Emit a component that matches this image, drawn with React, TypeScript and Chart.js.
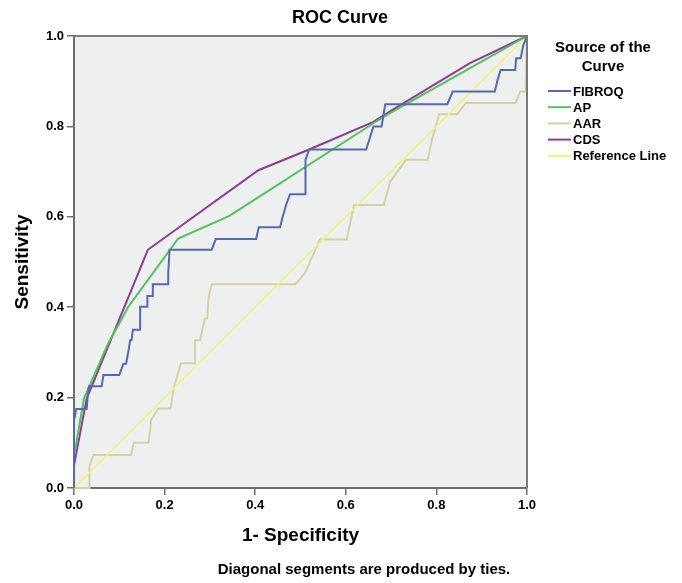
import React, { useEffect, useRef } from "react";
import { Chart, registerables } from "chart.js";

Chart.register(...registerables);

const FONT = "'Liberation Sans', Arial, Helvetica, sans-serif";

const chartTitle = "ROC Curve";
const xAxisTitle = "1- Specificity";
const yAxisTitle = "Sensitivity";
const footnote = "Diagonal segments are produced by ties.";
const legendTitle = ["Source of the", "Curve"];

const seriesNames = ["FIBROQ", "AP", "AAR", "CDS", "Reference Line"];
const seriesColors = ["#5667b4", "#52c15c", "#d7d0a6", "#8f3b95", "#f3f17c"];

// FIBROQ
const fibroqFpr = [0, 0, 0.005, 0.028, 0.03, 0.033, 0.061, 0.065, 0.1, 0.109, 0.115, 0.12, 0.124, 0.127, 0.13, 0.146, 0.146, 0.162, 0.162, 0.174, 0.174, 0.208, 0.208, 0.211, 0.304, 0.313, 0.402, 0.408, 0.455, 0.461, 0.465, 0.468, 0.477, 0.511, 0.511, 0.519, 0.645, 0.661, 0.679, 0.687, 0.824, 0.836, 0.929, 0.935, 0.942, 0.974, 0.976, 0.986, 0.992, 1];
const fibroqTpr = [0, 0.15, 0.175, 0.175, 0.2, 0.225, 0.225, 0.25, 0.25, 0.275, 0.275, 0.302, 0.327, 0.327, 0.35, 0.35, 0.401, 0.401, 0.425, 0.425, 0.451, 0.451, 0.475, 0.527, 0.527, 0.551, 0.551, 0.577, 0.577, 0.602, 0.615, 0.626, 0.65, 0.65, 0.726, 0.749, 0.749, 0.8, 0.8, 0.849, 0.849, 0.877, 0.877, 0.903, 0.925, 0.925, 0.951, 0.951, 0.98, 1];

// AP
const apFpr = [0, 0.022, 0.076, 0.12, 0.23, 0.343, 0.661, 0.69, 0.874, 1];
const apTpr = [0.07, 0.198, 0.321, 0.401, 0.552, 0.602, 0.807, 0.825, 0.929, 1];

// AAR
const aarFpr = [0, 0.034, 0.034, 0.043, 0.126, 0.132, 0.164, 0.168, 0.17, 0.186, 0.213, 0.22, 0.236, 0.267, 0.267, 0.278, 0.289, 0.294, 0.297, 0.304, 0.489, 0.51, 0.543, 0.602, 0.618, 0.684, 0.698, 0.733, 0.781, 0.79, 0.806, 0.846, 0.865, 0.975, 0.985, 0.997, 1];
const aarTpr = [0, 0, 0.047, 0.073, 0.073, 0.1, 0.1, 0.125, 0.15, 0.176, 0.176, 0.22, 0.276, 0.276, 0.327, 0.327, 0.375, 0.375, 0.42, 0.451, 0.451, 0.476, 0.55, 0.55, 0.626, 0.626, 0.678, 0.726, 0.726, 0.77, 0.827, 0.827, 0.852, 0.852, 0.877, 0.877, 1];

// CDS
const cdsFpr = [0, 0.028, 0.163, 0.407, 0.519, 0.661, 0.712, 0.874, 1];
const cdsTpr = [0.05, 0.198, 0.527, 0.703, 0.749, 0.81, 0.842, 0.94, 1];

// Reference line
const refFpr = [0, 1];
const refTpr = [0, 1];

const xTickValues = [0, 0.2, 0.4, 0.6, 0.8, 1.0];
const yTickValues = [0, 0.2, 0.4, 0.6, 0.8, 1.0];

const toPoints = (xs: number[], ys: number[]) => xs.map((x, i) => ({ x, y: ys[i] }));

const seriesData = [
  toPoints(fibroqFpr, fibroqTpr),
  toPoints(apFpr, apTpr),
  toPoints(aarFpr, aarTpr),
  toPoints(cdsFpr, cdsTpr),
  toPoints(refFpr, refTpr),
];

const decorPlugin = {
  id: "decor",
  beforeDraw(chart: any) {
    const { ctx, chartArea } = chart;
    ctx.save();
    ctx.fillStyle = "#ffffff";
    ctx.fillRect(0, 0, chart.width, chart.height);
    ctx.fillStyle = "#eef0ef";
    ctx.fillRect(chartArea.left, chartArea.top, chartArea.right - chartArea.left, chartArea.bottom - chartArea.top);
    ctx.restore();
  },
  afterDraw(chart: any) {
    const { ctx, chartArea } = chart;
    ctx.save();
    // plot frame
    ctx.strokeStyle = "#7a7a7a";
    ctx.lineWidth = 2;
    ctx.beginPath();
    ctx.moveTo(chartArea.left, chartArea.top);
    ctx.lineTo(chartArea.right, chartArea.top);
    ctx.lineTo(chartArea.right, chartArea.bottom);
    ctx.stroke();

    // title
    ctx.fillStyle = "#000";
    ctx.textAlign = "center";
    ctx.textBaseline = "middle";
    ctx.font = `bold 18px ${FONT}`;
    ctx.fillText(chartTitle, 340, 18);

    // footnote
    ctx.font = `bold 15px ${FONT}`;
    ctx.fillText(footnote, 364, 570);

    // legend
    ctx.font = `bold 15px ${FONT}`;
    ctx.fillText(legendTitle[0], 603, 48);
    ctx.fillText(legendTitle[1], 603, 67);
    ctx.font = `bold 13px ${FONT}`;
    ctx.textAlign = "left";
    seriesNames.forEach((name, i) => {
      const y = 91 + i * 16.2;
      ctx.strokeStyle = seriesColors[i];
      ctx.lineWidth = 2;
      ctx.beginPath();
      ctx.moveTo(548, y);
      ctx.lineTo(571, y);
      ctx.stroke();
      ctx.fillStyle = "#000";
      ctx.fillText(name, 573, y + 1);
    });
    ctx.restore();
  },
};

export default function App() {
  const canvasRef = useRef<HTMLCanvasElement | null>(null);

  useEffect(() => {
    document.body.style.margin = "0";
    const canvas = canvasRef.current;
    if (!canvas) return;
    const chart = new Chart(canvas, {
      type: "line",
      data: {
        datasets: seriesNames.map((name, i) => ({
          label: name,
          data: seriesData[i],
          borderColor: seriesColors[i],
          backgroundColor: seriesColors[i],
          borderWidth: i === 4 ? 1.5 : 2,
          pointRadius: 0,
          tension: 0,
          fill: false,
          clip: false,
          order: i === 2 ? 5 : i === 4 ? 4 : i,
        })),
      },
      options: {
        responsive: false,
        animation: false,
        devicePixelRatio: 1,
        layout: { padding: { left: 0, top: 36, right: 155, bottom: 25 } },
        plugins: {
          legend: { display: false },
          title: { display: false },
          tooltip: { enabled: false },
        },
        scales: {
          x: {
            type: "linear",
            min: 0,
            max: 1,
            afterFit: (scale: any) => {
              scale.height = 70;
            },
            afterBuildTicks: (scale: any) => {
              scale.ticks = xTickValues.map((v) => ({ value: v }));
            },
            ticks: {
              callback: (v: any) => Number(v).toFixed(1),
              font: { family: FONT, size: 13, weight: "bold" },
              color: "#000",
              padding: 3,
              maxRotation: 0,
            },
            grid: { drawOnChartArea: false, drawTicks: true, tickLength: 7, color: "#6e6e6e", lineWidth: 1.5 },
            border: { display: true, color: "#6e6e6e", width: 2 },
            title: {
              display: true,
              text: xAxisTitle,
              font: { family: FONT, size: 19, weight: "bold" },
              color: "#000",
              padding: { top: 0, bottom: 11 },
            },
          },
          y: {
            type: "linear",
            min: 0,
            max: 1,
            afterFit: (scale: any) => {
              scale.width = 74;
            },
            afterBuildTicks: (scale: any) => {
              scale.ticks = yTickValues.map((v) => ({ value: v }));
            },
            ticks: {
              callback: (v: any) => Number(v).toFixed(1),
              font: { family: FONT, size: 13, weight: "bold" },
              color: "#000",
              padding: 3,
            },
            grid: { drawOnChartArea: false, drawTicks: true, tickLength: 7, color: "#6e6e6e", lineWidth: 1.5 },
            border: { display: true, color: "#6e6e6e", width: 2 },
            title: {
              display: true,
              text: yAxisTitle,
              font: { family: FONT, size: 19, weight: "bold" },
              color: "#000",
              padding: { top: 11, bottom: 0 },
            },
          },
        },
      } as any,
      plugins: [decorPlugin],
    });
    return () => chart.destroy();
  }, []);

  return (
    <div style={{ width: 682, height: 583 }}>
      <canvas ref={canvasRef} width={682} height={583} style={{ display: "block" }} />
    </div>
  );
}
